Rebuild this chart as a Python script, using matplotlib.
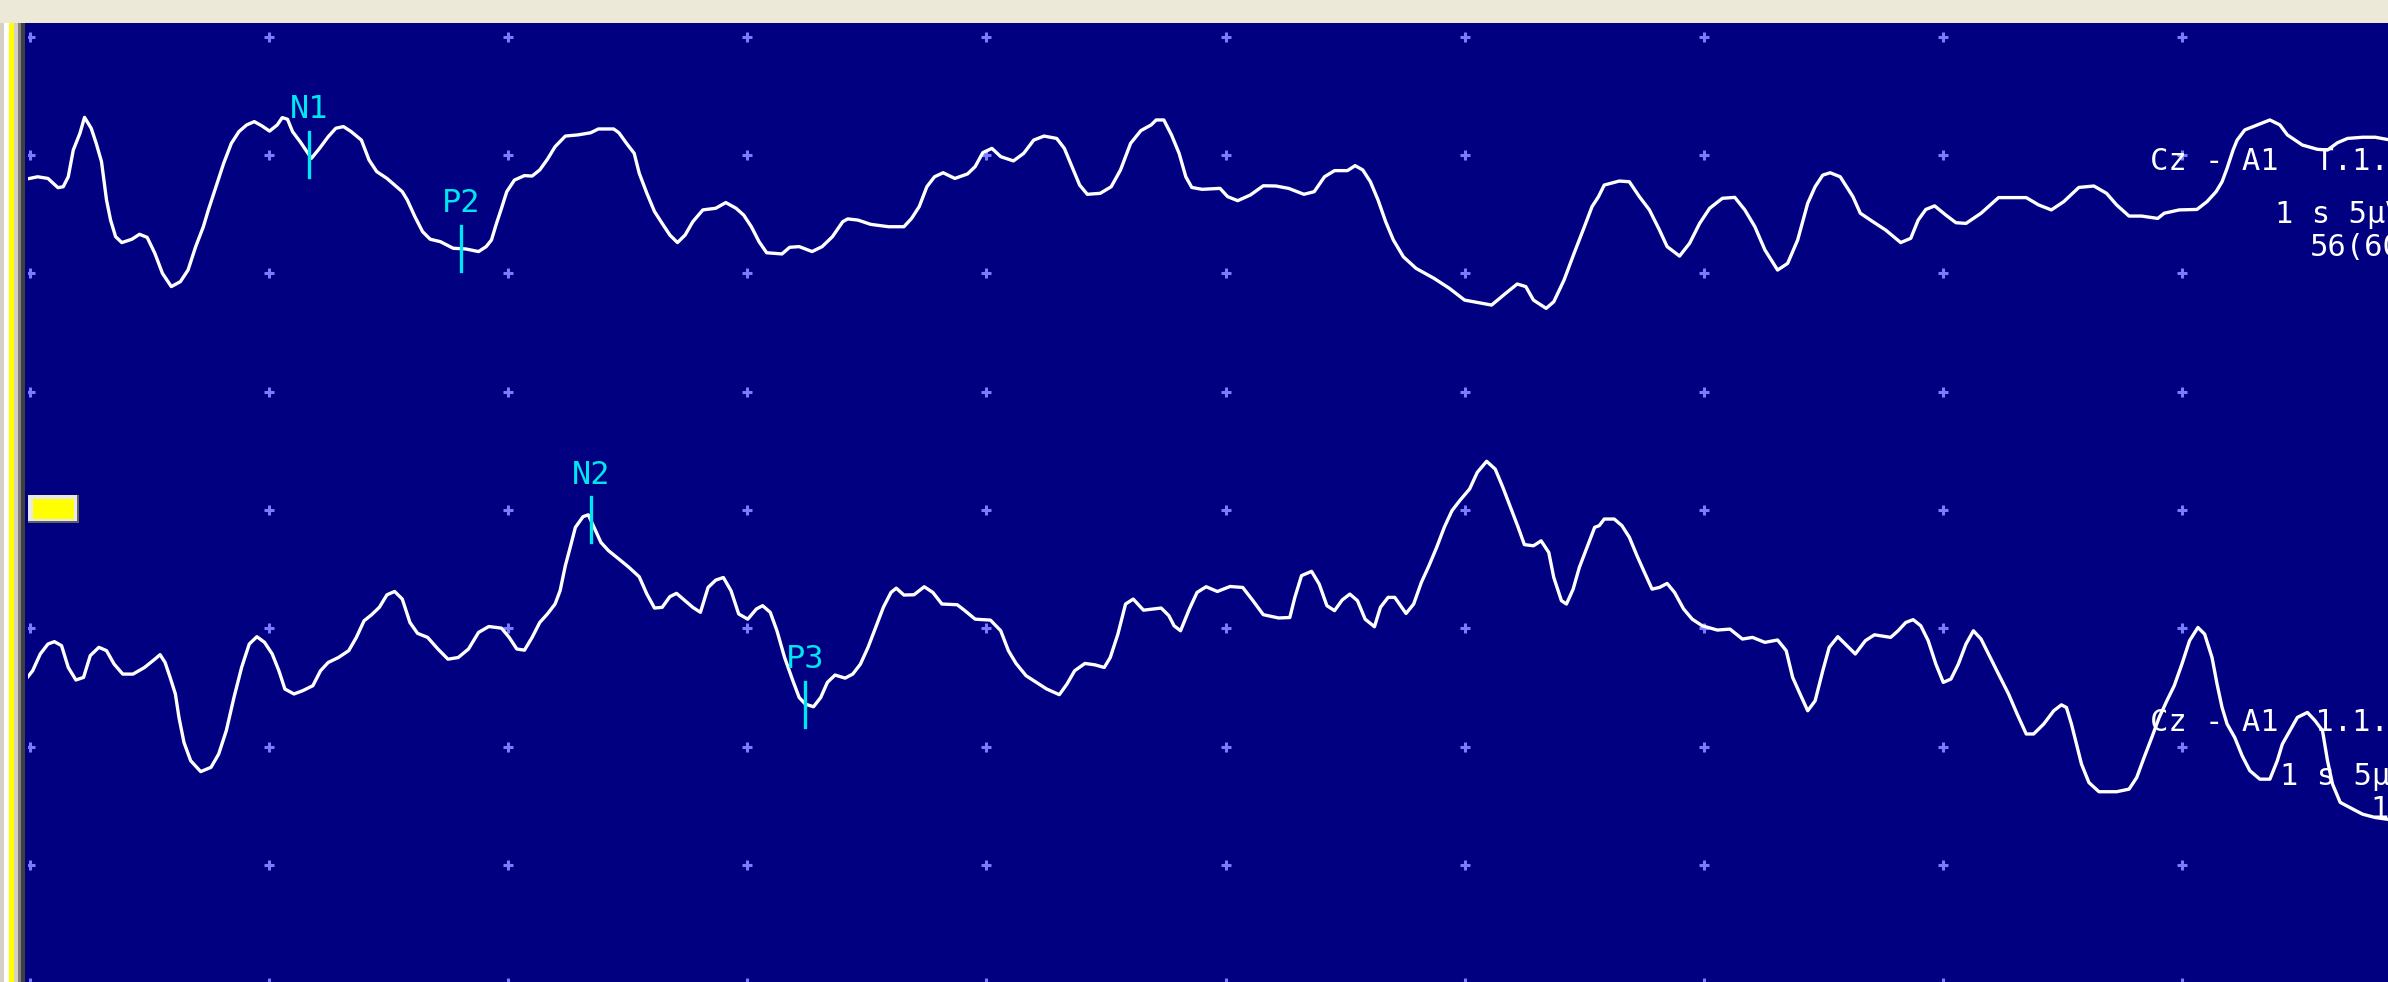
import numpy as np
import matplotlib.pyplot as plt
from matplotlib.patches import Rectangle

t1 = [-1.1, 3.2, 7.5, 11.7, 13.9, 16.0, 18.1, 20.9, 22.8, 25.6, 27.7, 29.9, 32.0, 33.7, 35.8, 38.4,
      42.6, 45.8, 49.0, 52.2, 55.4, 59.1, 62.9, 66.1, 69.3, 72.5, 74.6, 77.8, 81.0, 84.2, 87.4, 90.6,
      93.8, 97.0, 100.2, 103.4, 105.5, 107.7, 109.8, 113.0, 117.7, 121.1, 124.7, 127.9, 131.1, 134.3,
      138.6, 141.8, 145.0, 149.3, 152.5, 155.7, 157.8, 161.0, 164.2, 167.4, 171.6, 177.0, 182.3, 187.6,
      190.8, 193.0, 195.1, 197.2, 199.4, 202.6, 206.8, 210.0, 213.2, 216.4, 219.6, 223.9, 229.2, 234.5,
      237.7, 244.1, 246.3, 249.5, 252.7, 254.8, 258.0, 261.2, 264.4, 267.6, 270.8, 274.0, 277.2, 281.4,
      286.8, 291.0, 295.3, 298.5, 301.7, 304.9, 308.1, 314.5, 317.7, 321.7, 327.1, 331.3, 335.6, 339.9,
      342.0, 346.3, 351.6, 359.1, 365.5, 368.7, 371.9, 375.1, 378.3, 381.9, 386.8, 392.1, 395.3, 398.5,
      402.3, 406.0, 411.3, 415.6, 419.8, 424.1, 429.4, 432.6, 435.8, 439.0, 442.2, 447.6, 452.2, 456.1,
      460.3, 464.6, 468.9, 471.0, 474.2, 477.4, 480.6, 483.4, 485.9, 490.2, 497.7, 500.9, 505.1, 510.4,
      515.8, 521.1, 526.4, 532.8, 537.1, 541.4, 545.6, 551.0, 554.2, 557.4, 560.6, 563.8, 567.0, 570.2,
      574.4, 579.7, 587.2, 593.6, 600.0, 605.3, 611.3, 617.1, 622.0, 625.6, 628.8, 634.1, 637.3, 641.6,
      645.8, 650.1, 653.3, 656.0, 658.4, 664.7, 668.9, 673.1, 677.3, 681.5, 684.7, 689.9, 694.1, 698.3,
      702.5, 707.8, 713.0, 717.2, 721.4, 725.6, 730.9, 735.1, 739.3, 743.5, 746.6, 749.8, 752.9, 757.1,
      762.4, 765.5, 770.8, 776.1, 782.4, 786.6, 789.7, 792.9, 796.6, 801.3, 805.5, 809.7, 816.0, 823.3,
      834.9, 840.1, 845.4, 850.6, 856.9, 863.2, 868.5, 872.7, 877.9, 883.2, 889.9, 892.6, 898.9, 906.3,
      910.5, 914.3, 916.8, 918.9, 921.4, 923.1, 926.3, 931.5, 936.8, 941.0, 944.1, 950.4, 956.7, 960.9,
      965.1, 969.3, 975.6, 980.9, 985.7]
v1 = [-1.01, -0.92, -0.99, -1.38, -1.34, -0.92, 0.21, 0.92, 1.59, 1.13, 0.49, -0.28, -1.90, -2.75, -3.45, -3.70,
      -3.56, -3.35, -3.48, -4.15, -5.00, -5.56, -5.35, -4.86, -3.87, -3.03, -2.32, -1.34, -0.35, 0.49, 0.99, 1.27,
      1.41, 1.23, 1.01, 1.27, 1.58, 1.51, 0.99, 0.56, -0.14, 0.28, 0.77, 1.13, 1.20, 0.99,
      0.63, -0.21, -0.70, -0.99, -1.27, -1.55, -1.90, -2.61, -3.24, -3.56, -3.66, -3.94, -3.97, -4.08,
      -3.87, -3.59, -2.89, -2.25, -1.55, -1.06, -0.87, -0.89, -0.63, -0.18, 0.35, 0.80, 0.85, 0.94,
      1.10, 1.10, 0.94, 0.49, 0.07, -0.77, -1.62, -2.39, -2.89, -3.38, -3.70, -3.38, -2.82, -2.32,
      -2.25, -2.01, -2.25, -2.54, -3.03, -3.66, -4.13, -4.18, -3.90, -3.87, -4.08, -3.87, -3.45, -2.82,
      -2.70, -2.75, -2.93, -3.03, -3.03, -2.68, -2.18, -1.34, -0.92, -0.75, -0.99, -0.80, -0.49, 0.10,
      0.28, -0.07, -0.25, 0.07, 0.63, 0.80, 0.70, 0.28, -0.49, -1.27, -1.66, -1.62, -1.34, -0.63,
      0.49, 1.03, 1.27, 1.48, 1.48, 0.85, 0.07, -0.92, -1.37, -1.45, -1.41, -1.76, -1.93, -1.69,
      -1.30, -1.31, -1.41, -1.66, -1.55, -0.92, -0.66, -0.66, -0.45, -0.63, -1.13, -1.90, -2.82, -3.59,
      -4.30, -4.79, -5.21, -5.63, -6.13, -6.23, -6.34, -5.85, -5.45, -5.56, -6.13, -6.48, -6.20, -5.28,
      -4.15, -3.03, -2.18, -1.76, -1.27, -1.10, -1.13, -1.76, -2.32, -3.17, -3.87, -4.27, -3.73, -2.89,
      -2.25, -1.83, -1.79, -2.32, -3.03, -4.01, -4.86, -4.58, -3.59, -2.04, -1.34, -0.85, -0.75, -0.92,
      -1.76, -2.46, -2.82, -3.17, -3.70, -3.52, -2.75, -2.30, -2.15, -2.54, -2.86, -2.89, -2.46, -1.80,
      -1.80, -2.11, -2.32, -1.97, -1.37, -1.31, -1.62, -2.11, -2.58, -2.58, -2.68, -2.46, -2.32, -2.30,
      -1.97, -1.55, -1.13, -0.56, 0.21, 0.63, 1.06, 1.27, 1.48, 1.27, 0.85, 0.42, 0.24, 0.21,
      0.52, 0.70, 0.75, 0.75, 0.66]

t2 = [-1.1, 1.1, 4.3, 7.5, 10.2, 13.2, 16.0, 19.2, 22.4, 25.2, 28.8, 32.0, 35.2, 38.8, 43.1, 47.9,
      52.2, 54.4, 56.5, 58.6, 60.8, 62.3, 64.4, 67.2, 71.4, 75.7, 78.9, 82.1, 85.3, 88.5, 91.7, 94.9,
      98.1, 101.3, 104.1, 106.6, 110.4, 114.1, 118.3, 121.5, 124.7, 129.0, 133.3, 136.5, 139.7, 142.9,
      146.1, 149.3, 152.5, 155.7, 158.9, 162.1, 166.3, 170.6, 174.8, 179.1, 183.4, 187.6, 191.9, 197.2,
      200.4, 203.6, 206.8, 210.0, 213.2, 216.4, 219.6, 221.7, 223.9, 226.0, 228.1, 231.3, 233.5, 235.6,
      238.8, 242.0, 246.3, 250.5, 254.8, 258.0, 261.2, 264.4, 267.6, 270.4, 274.0, 277.2, 280.4, 283.6,
      286.8, 290.0, 293.2, 296.4, 300.2, 303.8, 306.4, 309.6, 312.4, 315.6, 318.8, 321.7, 324.3, 327.7,
      330.7, 333.5, 336.7, 340.9, 344.1, 347.3, 350.5, 353.7, 356.9, 360.1, 362.3, 365.5, 369.7, 374.0,
      377.6, 381.4, 387.8, 391.0, 395.3, 401.7, 406.0, 409.2, 412.4, 416.6, 420.9, 425.2, 430.5, 433.7,
      436.9, 441.2, 445.4, 449.3, 451.8, 455.0, 458.2, 461.4, 465.7, 473.1, 476.3, 478.5, 481.2, 484.9,
      488.1, 491.9, 496.6, 501.9, 507.2, 511.5, 515.8, 522.2, 526.9, 529.0, 531.8, 536.0, 539.2, 542.4,
      545.6, 548.8, 552.0, 555.2, 558.4, 562.3, 564.8, 568.0, 570.8, 575.5, 578.7, 581.9, 585.1, 588.3,
      591.5, 594.7, 597.9, 602.1, 605.3, 609.2, 612.8, 616.0, 619.2, 622.4, 625.0, 628.8, 632.0, 635.2,
      637.3, 640.5, 642.6, 645.4, 648.0, 651.2, 654.4, 656.3, 658.4, 662.6, 665.8, 668.9, 672.1, 675.2,
      678.4, 681.5, 684.7, 687.8, 691.6, 695.2, 699.4, 705.7, 711.0, 716.2, 720.4, 725.6, 730.9, 734.5,
      737.2, 740.3, 743.5, 746.6, 749.8, 752.5, 756.1, 759.2, 763.4, 767.6, 771.4, 778.2, 781.3, 784.5,
      787.6, 790.8, 793.9, 797.1, 800.2, 803.4, 806.5, 809.7, 812.8, 816.0, 819.1, 823.3, 827.5, 831.1,
      834.9, 838.0, 842.2, 846.4, 849.6, 851.7, 853.8, 855.9, 858.0, 861.1, 865.3, 872.7, 877.9, 881.1,
      884.2, 887.4, 890.5, 893.7, 896.8, 900.0, 903.2, 906.7, 909.5, 912.6, 914.7, 916.8, 918.9, 922.1,
      925.2, 928.4, 932.6, 936.8, 939.9, 942.0, 945.2, 948.3, 952.5, 955.7, 958.8, 960.9, 963.0, 966.2,
      971.4, 975.6, 980.9, 985.7]
v2 = [-2.07, -1.79, -1.08, -0.66, -0.56, -0.73, -1.65, -2.18, -2.07, -1.15, -0.80, -0.94, -1.51, -1.93, -1.93, -1.65,
      -1.30, -1.11, -1.44, -2.07, -2.77, -3.76, -4.82, -5.59, -6.05, -5.87, -5.31, -4.32, -2.92, -1.65, -0.66, -0.35,
      -0.59, -1.08, -1.79, -2.56, -2.77, -2.63, -2.42, -1.79, -1.44, -1.23, -0.94, -0.38, 0.32, 0.58,
      0.89, 1.42, 1.56, 1.24, 0.25, -0.21, -0.38, -0.87, -1.30, -1.23, -0.87, -0.17, 0.08, 0.01,
      -0.38, -0.87, -0.92, -0.38, 0.25, 0.61, 1.03, 1.59, 2.65, 3.45, 4.27, 4.72, 4.80, 4.34,
      3.63, 3.28, 2.93, 2.58, 2.18, 1.45, 0.86, 0.89, 1.34, 1.48, 1.17, 0.89, 0.68, 1.73,
      2.04, 2.15, 1.59, 0.61, 0.39, 0.82, 0.96, 0.68, -0.10, -1.23, -2.14, -2.92, -3.20, -3.31,
      -2.92, -2.28, -1.97, -2.10, -1.93, -1.51, -0.80, 0.04, 0.89, 1.52, 1.70, 1.41, 1.42, 1.76,
      1.52, 1.03, 1.00, 0.75, 0.39, 0.35, -0.10, -0.94, -1.48, -2.00, -2.28, -2.56, -2.80, -2.35,
      -1.79, -1.48, -1.54, -1.65, -1.23, -0.24, 1.03, 1.24, 0.77, 0.86, 0.54, 0.11, -0.10, 0.82,
      1.52, 1.76, 1.56, 1.77, 1.73, 1.17, 0.58, 0.44, 0.46, 1.31, 2.23, 2.41, 1.87, 0.96,
      0.75, 1.20, 1.45, 1.17, 0.39, 0.07, 0.89, 1.31, 1.31, 0.63, 1.03, 1.94, 2.65, 3.42,
      4.27, 4.97, 5.39, 5.89, 6.59, 7.06, 6.73, 5.96, 5.11, 4.27, 3.54, 3.49, 3.70, 3.21,
      2.15, 1.17, 1.03, 1.66, 2.58, 3.42, 4.27, 4.34, 4.62, 4.62, 4.34, 3.85, 3.07, 2.37,
      1.66, 1.73, 1.90, 1.52, 0.82, 0.39, 0.11, -0.07, -0.03, -0.45, -0.38, -0.59, -0.49, -0.94,
      -2.07, -2.77, -3.48, -3.06, -1.79, -0.80, -0.35, -0.66, -1.08, -0.52, -0.27, -0.38, -0.10, 0.25,
      0.37, 0.11, -0.52, -1.51, -2.28, -2.14, -1.51, -0.66, -0.10, -0.45, -1.08, -1.93, -2.77, -3.62,
      -4.46, -4.46, -4.04, -3.48, -3.23, -3.34, -4.04, -4.89, -5.73, -6.51, -6.90, -6.90, -6.79, -6.30,
      -5.45, -4.61, -3.76, -3.06, -2.42, -1.51, -0.52, 0.04, -0.24, -1.23, -2.35, -3.34, -4.04, -4.61,
      -5.38, -6.01, -6.37, -6.37, -5.59, -4.89, -4.32, -3.76, -3.55, -3.90, -4.32, -5.59, -6.58, -7.35,
      -7.63, -7.85, -7.99, -8.06]

channel_names = ["Cz - A1  T.1.1", "Cz - A1  1.1.1"]
scale_text = ["1 s 5µV", "1 s 5µV"]
count_text = ["56(60)", "14(60)"]
channel_offset = [0, -20]

peak_names = ["N1", "P2", "N2", "P3"]
peak_times = [116.6, 180.2, 234.5, 324.3]
peak_channel = [0, 0, 1, 1]

grid_t = np.arange(0, 901, 100)
grid_v = np.arange(5, -36, -5)

W, H = 2388, 982
NAVY = "#000080"
CYAN = "#00E6F0"
MONO = "DejaVu Sans Mono"

fig = plt.figure(figsize=(W / 100, H / 100), dpi=100)
fig.patch.set_facecolor(NAVY)


def px_box(x0, y0, x1, y1, color):
    # rectangle given in screen pixels, origin top-left
    fig.add_artist(Rectangle((x0 / W, 1 - y1 / H), (x1 - x0) / W, (y1 - y0) / H,
                             transform=fig.transFigure, facecolor=color,
                             edgecolor="none", zorder=5))


# window chrome
px_box(0, 0, W, 22.5, "#ECE9D8")
px_box(0, 22.5, 4, H, "#D4D0C8")
px_box(4, 22.5, 9, H, "#FFFFFF")
px_box(9, 22.5, 14, H, "#FFFF00")
px_box(14, 22.5, 18, H, "#D4D0C8")
px_box(18, 22.5, 21, H, "#808080")
px_box(21, 22.5, 25, H, "#404040")

ax = fig.add_axes([28 / W, 0, 1 - 28 / W, 1 - 22.5 / H])
ax.set_xlim((28 - 30) / 2.391, (W - 30) / 2.391)
ax.set_ylim((155 - H) / 23.67, (155 - 22.5) / 23.67)
ax.set_axis_off()

gt, gv = np.meshgrid(grid_t, grid_v)
ax.plot(gt.ravel(), gv.ravel(), "+", color="#7B7BFF", ms=7.5, mew=2.2, zorder=1)

traces = [(t1, v1), (t2, v2)]
for (tt, vv), off in zip(traces, channel_offset):
    ax.plot(tt, np.array(vv) + off, color="white", lw=2.4, zorder=3)

# peak markers
for name, tp, ch in zip(peak_names, peak_times, peak_channel):
    tt, vv = traces[ch]
    y = np.interp(tp, tt, vv) + channel_offset[ch]
    ax.plot([tp, tp], [y - 0.95, y + 0.95], color=CYAN, lw=2.4, zorder=4)
    ax.text(tp, y + 0.95 + 0.59, name, color=CYAN, ha="center", va="baseline",
            family=MONO, fontsize=23, zorder=4)

# channel captions on the right
name_y = [-0.63, -4.35]
scale_pos = [(938.9, -2.87), (941.0, -6.63)]
count_pos = [(953.6, -4.27), (978.7, -8.03)]
for ch in range(2):
    off = channel_offset[ch]
    ax.text(886.7, off + name_y[ch], channel_names[ch], color="white",
            va="baseline", family=MONO, fontsize=22, zorder=4)
    ax.text(scale_pos[ch][0], off + scale_pos[ch][1], scale_text[ch], color="white",
            va="baseline", family=MONO, fontsize=22, zorder=4)
    ax.text(count_pos[ch][0], off + count_pos[ch][1], count_text[ch], color="white",
            va="baseline", family=MONO, fontsize=22, zorder=4)

# small yellow channel button
px_box(28, 495, 79, 523, "#606060")
px_box(28, 495, 77, 521, "#E8E8E8")
px_box(33, 499, 74, 519, "#FFFF00")

fig.savefig("out.png", dpi=100, facecolor=fig.get_facecolor())
